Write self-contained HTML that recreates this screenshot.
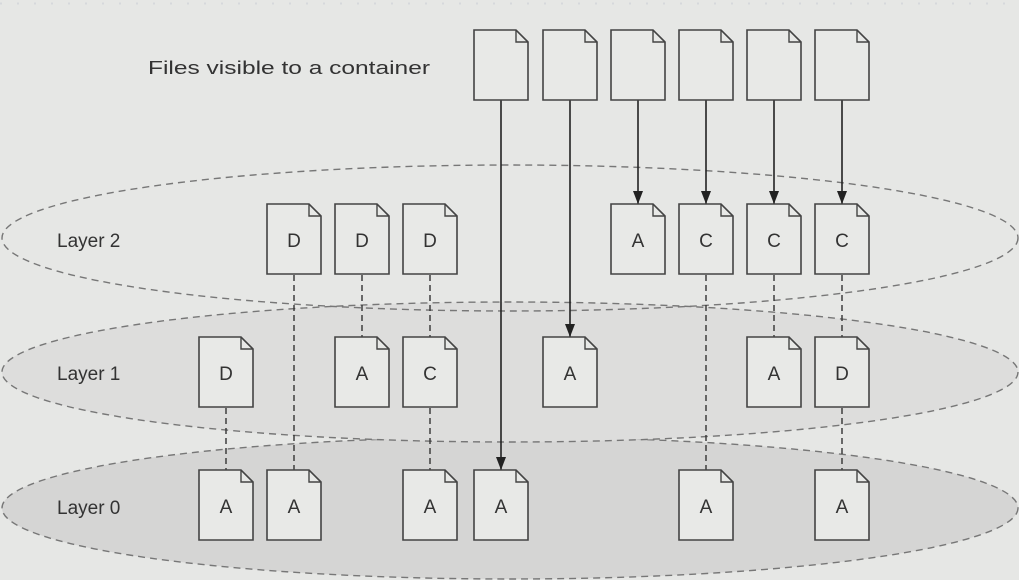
<!DOCTYPE html>
<html><head><meta charset="utf-8"><style>
html,body{margin:0;padding:0;background:#e6e7e5;}
svg{display:block;}
text{font-family:"Liberation Sans",Arial,sans-serif;fill:#333;}
</style></head><body>
<svg width="1019" height="580" viewBox="0 0 1019 580" xmlns="http://www.w3.org/2000/svg">
<defs>
<marker id="ar" markerWidth="13" markerHeight="10" refX="13" refY="5" orient="auto" markerUnits="userSpaceOnUse" viewBox="0 0 13 10">
<path d="M0,0 L13,5 L0,10 Z" fill="#222"/>
</marker>
<g id="doc">
<path d="M0,0 H42 L54,12 V70 H0 Z" fill="#e8e9e7" stroke="#444" stroke-width="1.6"/>
<path d="M42,0 V12 H54" fill="none" stroke="#444" stroke-width="1.4"/>
</g>
</defs>
<rect width="1019" height="580" fill="#e6e7e5"/>
<line x1="0" y1="3.5" x2="1019" y2="3.5" stroke="#d6d8dc" stroke-width="2" stroke-dasharray="2 15"/>
<ellipse cx="510" cy="508" rx="508" ry="71" fill="#d5d5d4" stroke="#777" stroke-width="1.4" stroke-dasharray="7 5"/>
<ellipse cx="510" cy="372" rx="508" ry="70" fill="#dddddc" stroke="#777" stroke-width="1.4" stroke-dasharray="7 5"/>
<ellipse cx="510" cy="238" rx="508" ry="73" fill="none" stroke="#777" stroke-width="1.4" stroke-dasharray="7 5"/>
<text x="148" y="74" font-size="18" textLength="282" lengthAdjust="spacingAndGlyphs">Files visible to a container</text>
<text x="57" y="247" font-size="19">Layer 2</text>
<text x="57" y="380" font-size="19">Layer 1</text>
<text x="57" y="514" font-size="19">Layer 0</text>
<g stroke="#333" stroke-width="1.4" stroke-dasharray="6 4" fill="none">
<line x1="294" y1="275" x2="294" y2="470"/>
<line x1="362" y1="275" x2="362" y2="337"/>
<line x1="430" y1="275" x2="430" y2="337"/>
<line x1="430" y1="408" x2="430" y2="470"/>
<line x1="706" y1="275" x2="706" y2="470"/>
<line x1="774" y1="275" x2="774" y2="337"/>
<line x1="842" y1="275" x2="842" y2="337"/>
<line x1="842" y1="408" x2="842" y2="470"/>
<line x1="226" y1="408" x2="226" y2="470"/>
</g>
<g stroke="#222" stroke-width="1.6" fill="none">
<line x1="501" y1="100" x2="501" y2="470" marker-end="url(#ar)"/>
<line x1="570" y1="100" x2="570" y2="337" marker-end="url(#ar)"/>
<line x1="638" y1="100" x2="638" y2="204" marker-end="url(#ar)"/>
<line x1="706" y1="100" x2="706" y2="204" marker-end="url(#ar)"/>
<line x1="774" y1="100" x2="774" y2="204" marker-end="url(#ar)"/>
<line x1="842" y1="100" x2="842" y2="204" marker-end="url(#ar)"/>
</g>
<use href="#doc" x="474" y="30"/><use href="#doc" x="543" y="30"/><use href="#doc" x="611" y="30"/>
<use href="#doc" x="679" y="30"/><use href="#doc" x="747" y="30"/><use href="#doc" x="815" y="30"/>
<g font-size="19" text-anchor="middle">
<use href="#doc" x="267" y="204"/><text x="294" y="247">D</text>
<use href="#doc" x="335" y="204"/><text x="362" y="247">D</text>
<use href="#doc" x="403" y="204"/><text x="430" y="247">D</text>
<use href="#doc" x="611" y="204"/><text x="638" y="247">A</text>
<use href="#doc" x="679" y="204"/><text x="706" y="247">C</text>
<use href="#doc" x="747" y="204"/><text x="774" y="247">C</text>
<use href="#doc" x="815" y="204"/><text x="842" y="247">C</text>
<use href="#doc" x="199" y="337"/><text x="226" y="380">D</text>
<use href="#doc" x="335" y="337"/><text x="362" y="380">A</text>
<use href="#doc" x="403" y="337"/><text x="430" y="380">C</text>
<use href="#doc" x="543" y="337"/><text x="570" y="380">A</text>
<use href="#doc" x="747" y="337"/><text x="774" y="380">A</text>
<use href="#doc" x="815" y="337"/><text x="842" y="380">D</text>
<use href="#doc" x="199" y="470"/><text x="226" y="513">A</text>
<use href="#doc" x="267" y="470"/><text x="294" y="513">A</text>
<use href="#doc" x="403" y="470"/><text x="430" y="513">A</text>
<use href="#doc" x="474" y="470"/><text x="501" y="513">A</text>
<use href="#doc" x="679" y="470"/><text x="706" y="513">A</text>
<use href="#doc" x="815" y="470"/><text x="842" y="513">A</text>
</g>
</svg>
</body></html>
